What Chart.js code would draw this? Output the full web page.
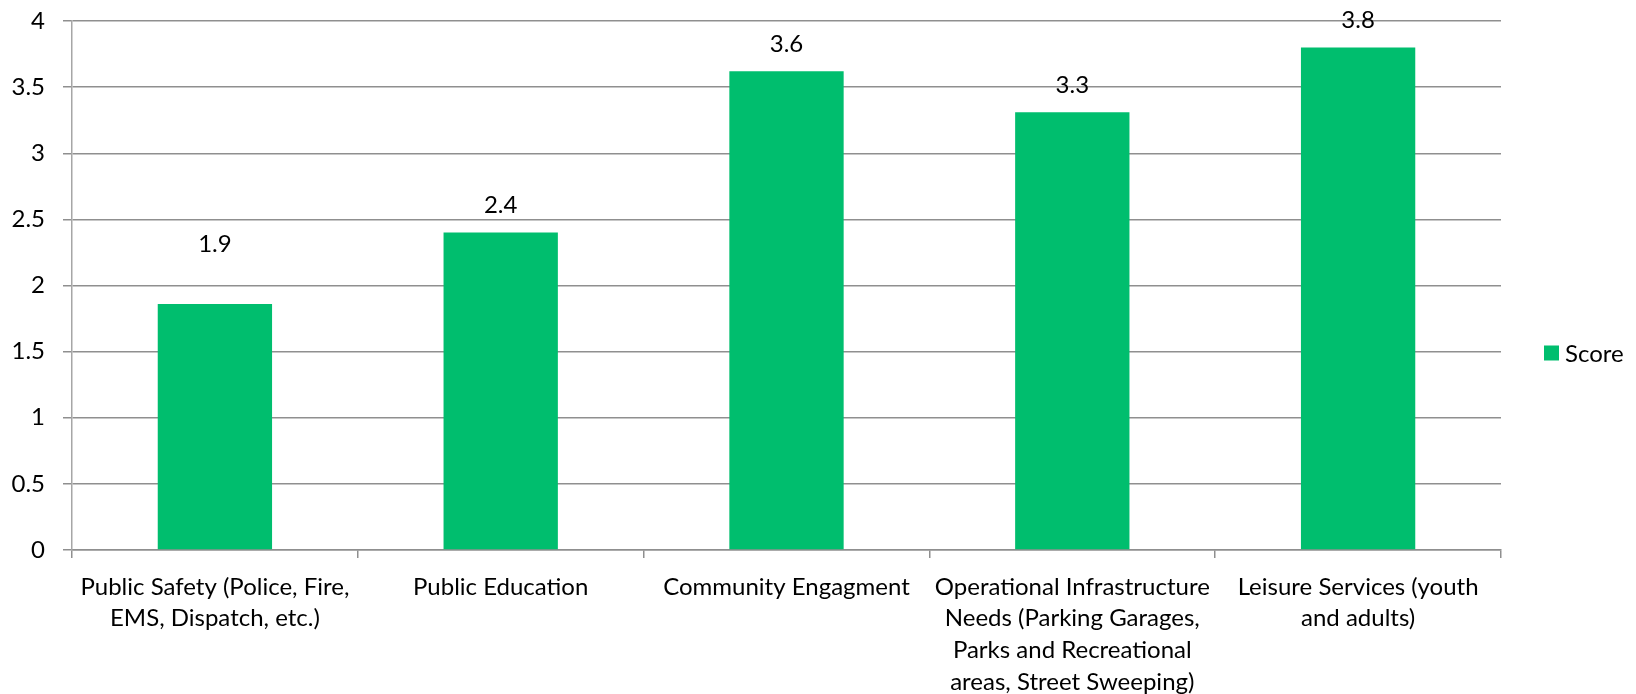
<!DOCTYPE html>
<html>
<head>
<meta charset="utf-8">
<script src="https://cdn.jsdelivr.net/npm/chart.js@4.4.1/dist/chart.umd.min.js"></script>
<style>
  html, body { margin: 0; padding: 0; background: #fff; }
  #wrap { width: 1636px; height: 694px; }
</style>
</head>
<body>
<div id="wrap"><canvas id="score_chart" width="1636" height="694"></canvas></div>
<script>
// categories as Excel wrapped them
const categories = [
    ["Public Safety (Police, Fire,", "EMS, Dispatch, etc.)"],
    "Public Education",
    "Community Engagment",
    ["Operational Infrastructure", "Needs (Parking Garages,", "Parks and Recreational", "areas, Street Sweeping)"],
    ["Leisure Services (youth", "and adults)"]
];
const scores = [1.86, 2.40, 3.62, 3.31, 3.80];
const seriesName = "Score";
const yTicks = [0, 0.5, 1, 1.5, 2, 2.5, 3, 3.5, 4];

const FONT = "Lato, 'DejaVu Sans', sans-serif";
const GREEN = "#00BE6E";
const GRID = "#8f8f8f";

// value labels above each bar (first one was nudged up in the original)
const valueLabels = {
    id: 'valueLabels',
    afterDatasetsDraw(chart, args, opts) {
        const ctx = chart.ctx;
        const meta = chart.getDatasetMeta(0);
        ctx.save();
        ctx.font = opts.size + "px " + FONT;
        ctx.fillStyle = "#000";
        ctx.textAlign = "center";
        ctx.textBaseline = "middle";
        meta.data.forEach(function(bar, i) {
            const v = chart.data.datasets[0].data[i];
            const lift = opts.offset + (opts.extra[i] || 0);
            ctx.fillText(v.toFixed(1), bar.x, bar.y - lift);
        });
        ctx.restore();
    }
};

// legend drawn by hand so the plot area can keep its width
const sideLegend = {
    id: 'sideLegend',
    afterDraw(chart, args, opts) {
        const ctx = chart.ctx;
        const ds = chart.data.datasets[0];
        ctx.save();
        ctx.fillStyle = ds.backgroundColor;
        ctx.fillRect(opts.x, opts.y - opts.box / 2, opts.box, opts.box);
        ctx.font = opts.size + "px " + FONT;
        ctx.fillStyle = "#000";
        ctx.textAlign = "left";
        ctx.textBaseline = "middle";
        ctx.fillText(ds.label, opts.x + opts.box + 6, opts.y + 1);
        ctx.restore();
    }
};

const score_chart = document.getElementById('score_chart');

let chart = new Chart(score_chart, {
    type: 'bar',
    data: {
        labels: categories,
        datasets: [{
            label: seriesName,
            data: scores,
            backgroundColor: GREEN,
            borderWidth: 0,
            categoryPercentage: 1.0,
            barPercentage: 0.4
        }]
    },
    plugins: [valueLabels, sideLegend],
    options: {
        responsive: false,
        animation: false,
        devicePixelRatio: 1,
        layout: {
            padding: { top: 21, right: 135, bottom: 0, left: 0 }
        },
        plugins: {
            legend: { display: false },
            tooltip: { enabled: false },
            valueLabels: { size: 24, offset: 27, extra: [33, 0, 0, 0, 0] },
            sideLegend: { x: 1544, y: 353, box: 15, size: 24 }
        },
        scales: {
            x: {
                grid: {
                    offset: true,
                    drawOnChartArea: false,
                    drawTicks: true,
                    tickLength: 8,
                    color: GRID,
                    lineWidth: 1.5
                },
                border: { color: GRID, width: 1.5 },
                ticks: {
                    color: "#000",
                    padding: 13,
                    maxRotation: 0,
                    autoSkip: false,
                    font: { family: FONT, size: 24, lineHeight: 1.32 }
                },
                afterFit: function(scale) { scale.height = 144; }
            },
            y: {
                min: 0,
                max: 4,
                afterBuildTicks: function(scale) {
                    scale.ticks = yTicks.map(v => ({ value: v }));
                },
                grid: {
                    color: GRID,
                    lineWidth: 1.5,
                    drawTicks: true,
                    tickLength: 9
                },
                border: { color: "#a6a6a6", width: 1.5 },
                ticks: {
                    color: "#000",
                    padding: 18,
                    font: { family: FONT, size: 24 },
                    callback: function(value) { return String(value); }
                },
                afterFit: function(scale) {
                    scale.width = 72;
                    scale.paddingTop = 0;
                    scale.paddingBottom = 0;
                }
            }
        }
    }
});
</script>
</body>
</html>
